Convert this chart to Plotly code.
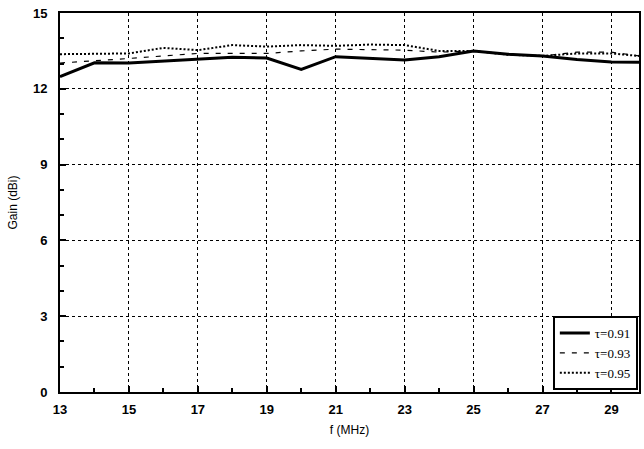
import plotly.graph_objects as go

freq = [13, 14, 15, 16, 17, 18, 19, 20, 21, 22, 23, 24, 25, 26, 27, 28, 29, 29.8]
gain_091 = [12.48, 13.03, 13.02, 13.1, 13.18, 13.25, 13.22, 12.77, 13.27, 13.2, 13.14, 13.27, 13.5, 13.37, 13.3, 13.16, 13.06, 13.05]
gain_093 = [13.02, 13.1, 13.2, 13.3, 13.4, 13.4, 13.4, 13.5, 13.57, 13.55, 13.53, 13.45, 13.5, 13.35, 13.3, 13.45, 13.45, 13.3]
gain_095 = [13.37, 13.37, 13.4, 13.62, 13.53, 13.73, 13.67, 13.73, 13.7, 13.75, 13.73, 13.5, 13.5, 13.35, 13.3, 13.4, 13.4, 13.3]
names = ["τ=0.91", "τ=0.93", "τ=0.95"]
xticks = [13, 15, 17, 19, 21, 23, 25, 27, 29]
yticks = [0, 3, 6, 9, 12, 15]

fig = go.Figure()
fig.add_trace(go.Scatter(x=freq, y=gain_091, mode="lines", name=names[0],
                         line=dict(color="black", width=3)))
fig.add_trace(go.Scatter(x=freq, y=gain_093, mode="lines", name=names[1],
                         line=dict(color="black", width=1.2, dash="5px,7px")))
fig.add_trace(go.Scatter(x=freq, y=gain_095, mode="lines", name=names[2],
                         line=dict(color="black", width=2, dash="2px,2px")))

axis_common = dict(
    showline=True, linecolor="black", linewidth=2, mirror=True,
    showgrid=True, gridcolor="black", gridwidth=1, griddash="dot",
    zeroline=False, ticks="inside", ticklen=6, tickcolor="black", tickwidth=1.5,
    tickfont=dict(family="Liberation Sans, Arial", size=13, color="black", weight="bold"),
)

fig.update_xaxes(range=[13, 29.8], tickvals=xticks, ticklabelstandoff=4, **axis_common,
                 minor=dict(ticks="inside", dtick=1, tick0=13, ticklen=4, tickcolor="black", showgrid=False),
                 title=dict(text="f (MHz)", font=dict(family="Liberation Sans, Arial", size=12, color="black"), standoff=10))
fig.update_yaxes(range=[0, 15], tickvals=yticks, ticklabelstandoff=8, **axis_common,
                 minor=dict(ticks="inside", dtick=1, ticklen=4, tickcolor="black", showgrid=False),
                 title=dict(text="Gain (dBi)", font=dict(family="Liberation Sans, Arial", size=12, color="black"), standoff=13))

fig.update_layout(
    width=644, height=449,
    margin=dict(l=60, r=3, t=13, b=57),
    paper_bgcolor="white", plot_bgcolor="white",
    showlegend=True,
    legend=dict(x=0.998, y=0.005, xanchor="right", yanchor="bottom",
                bgcolor="white", bordercolor="black", borderwidth=2,
                font=dict(family="Liberation Serif, Times New Roman", size=13, color="black"),
                tracegroupgap=0, itemwidth=30),
)

fig.write_html("out.html", config={"displayModeBar": False},
               post_script="document.body.style.margin='0';document.body.style.overflow='hidden';")
